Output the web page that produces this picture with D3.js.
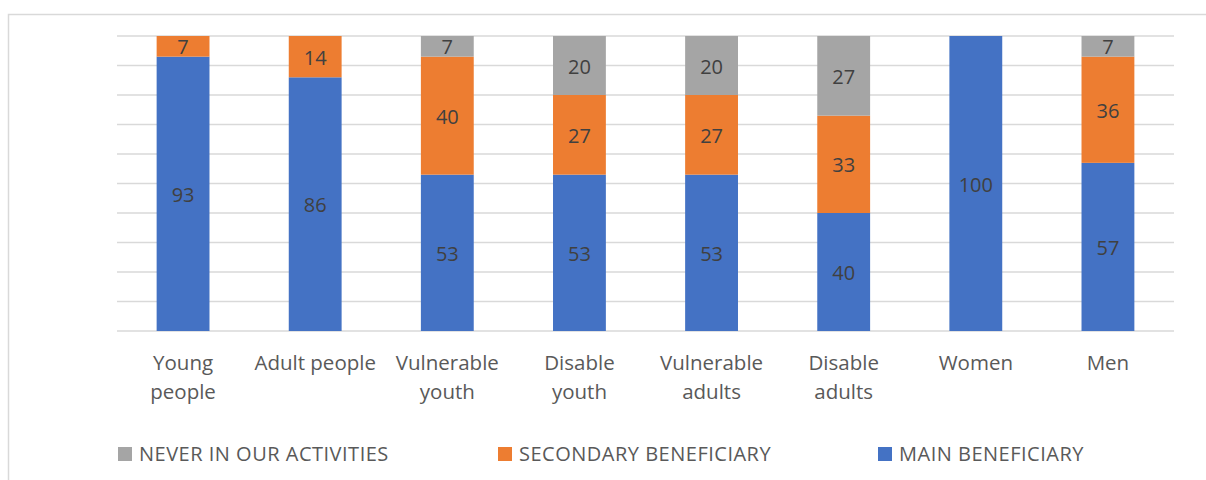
<!DOCTYPE html>
<html>
<head>
<meta charset="utf-8">
<script src="https://cdn.jsdelivr.net/npm/d3@7/dist/d3.min.js"></script>
<style>
  html, body { margin: 0; padding: 0; background: #fff; }
  svg { display: block; font-family: "Open Sans", Lato, sans-serif; }
</style>
</head>
<body>
<svg id="chart" width="1206" height="480"></svg>
<script>
// Beneficiary groups along the x axis (labels wrapped onto lines)
const categories = ["Young people", "Adult people", "Vulnerable youth", "Disable youth",
                    "Vulnerable adults", "Disable adults", "Women", "Men"];
const categoryLines = [["Young", "people"], ["Adult people"], ["Vulnerable", "youth"],
                       ["Disable", "youth"], ["Vulnerable", "adults"], ["Disable", "adults"],
                       ["Women"], ["Men"]];

// Share of each group (%) by beneficiary type
const mainBeneficiary      = [93, 86, 53, 53, 53, 40, 100, 57];
const secondaryBeneficiary = [7, 14, 40, 27, 27, 33, 0, 36];
const neverInActivities    = [0, 0, 7, 20, 20, 27, 0, 7];

const seriesNames  = ["MAIN BENEFICIARY", "SECONDARY BENEFICIARY", "NEVER IN OUR ACTIVITIES"];
const seriesColors = ["#4472c4", "#ed7d31", "#a5a5a5"];
const gridTicks = [0, 10, 20, 30, 40, 50, 60, 70, 80, 90, 100];

const svg = d3.select("#chart");

// chart frame
svg.append("rect")
  .attr("x", 8.5).attr("y", 14.5)
  .attr("width", 1230).attr("height", 500)
  .attr("fill", "none").attr("stroke", "#d9d9d9").attr("stroke-width", 1.5);

const x = d3.scaleBand()
  .domain(categories)
  .range([117, 1174])
  .paddingInner(0.6)
  .paddingOuter(0.3);

const y = d3.scaleLinear().domain([0, 100]).range([331, 36]);

// horizontal gridlines
svg.append("g")
  .selectAll("line")
  .data(gridTicks)
  .join("line")
  .attr("x1", 117).attr("x2", 1174)
  .attr("y1", d => y(d)).attr("y2", d => y(d))
  .attr("stroke", "#d9d9d9").attr("stroke-width", 1.5);

// stacked data
const rows = categories.map((c, i) => ({
  category: c,
  main: mainBeneficiary[i],
  secondary: secondaryBeneficiary[i],
  never: neverInActivities[i]
}));
const keys = ["main", "secondary", "never"];
const stacked = d3.stack().keys(keys)(rows);

const layers = svg.append("g")
  .selectAll("g")
  .data(stacked)
  .join("g")
  .attr("fill", (d, i) => seriesColors[i]);

layers.selectAll("rect")
  .data(d => d)
  .join("rect")
  .attr("x", d => x(d.data.category))
  .attr("width", x.bandwidth())
  .attr("y", d => y(d[1]))
  .attr("height", d => y(d[0]) - y(d[1]));

// segment value labels
layers.selectAll("text")
  .data(d => d.filter(s => s[1] - s[0] > 0))
  .join("text")
  .attr("x", d => x(d.data.category) + x.bandwidth() / 2)
  .attr("y", d => (y(d[0]) + y(d[1])) / 2)
  .attr("dy", "0.4em")
  .attr("text-anchor", "middle")
  .attr("fill", "#404040")
  .attr("font-size", 20)
  .text(d => d[1] - d[0]);

// category axis labels
const labels = svg.append("g")
  .selectAll("text")
  .data(categories)
  .join("text")
  .attr("x", d => x(d) + x.bandwidth() / 2)
  .attr("y", 370)
  .attr("text-anchor", "middle")
  .attr("fill", "#595959")
  .attr("font-size", 20.5);
labels.selectAll("tspan")
  .data((d, i) => categoryLines[i])
  .join("tspan")
  .attr("x", function() { return d3.select(this.parentNode).attr("x"); })
  .attr("dy", (d, i) => i === 0 ? 0 : 29)
  .text(d => d);

// legend
const legendItems = [
  { name: seriesNames[2], color: seriesColors[2], x: 118 },
  { name: seriesNames[1], color: seriesColors[1], x: 498 },
  { name: seriesNames[0], color: seriesColors[0], x: 878 }
];
const legend = svg.append("g")
  .selectAll("g")
  .data(legendItems)
  .join("g")
  .attr("transform", d => `translate(${d.x},447)`);
legend.append("rect")
  .attr("width", 14).attr("height", 14)
  .attr("fill", d => d.color);
legend.append("text")
  .attr("x", 21).attr("y", 14)
  .attr("fill", "#595959")
  .attr("font-size", 20)
  .attr("letter-spacing", 0.5)
  .text(d => d.name);
</script>
</body>
</html>
